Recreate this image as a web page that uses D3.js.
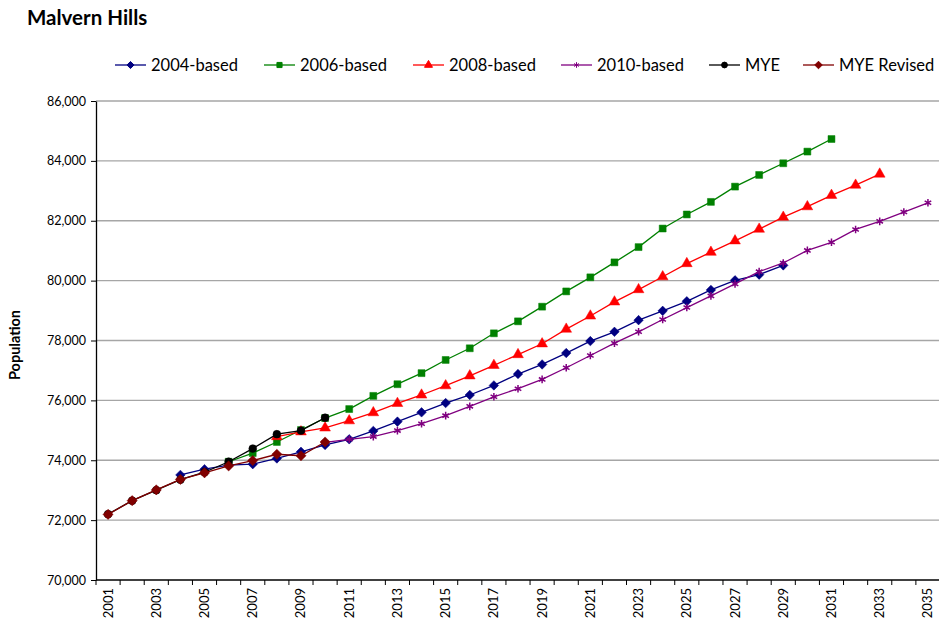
<!DOCTYPE html>
<html>
<head>
<meta charset="utf-8">
<script src="https://cdn.jsdelivr.net/npm/d3@7"></script>
<style>
  body { margin: 0; background: #fff; }
  svg { font-family: Lato, "Liberation Sans", sans-serif; }
</style>
</head>
<body>
<svg width="939" height="621"></svg>
<script>
// years on the x axis
var years = d3.range(2001, 2036);
var yTicks = [70000, 72000, 74000, 76000, 78000, 80000, 82000, 84000, 86000];

// series values, each starting at its own first year
var based2004Start = 2004;
var based2004 = [73510, 73700, 73840, 73870, 74060, 74280, 74510, 74700, 74980, 75290, 75600, 75910, 76180,
  76500, 76880, 77200, 77580, 77980, 78290, 78680, 78990, 79310, 79690, 80010, 80200, 80510];
var based2006Start = 2006;
var based2006 = [73950, 74240, 74610, 75010, 75410, 75710, 76150, 76540, 76910, 77350, 77740, 78240, 78640,
  79130, 79640, 80110, 80610, 81120, 81740, 82210, 82630, 83140, 83530, 83920, 84310, 84730];
var based2008Start = 2008;
var based2008 = [74790, 74950, 75080, 75320, 75590, 75900, 76180, 76490, 76820, 77170, 77530, 77890, 78380,
  78820, 79290, 79700, 80130, 80570, 80950, 81330, 81720, 82120, 82470, 82850, 83190, 83560];
var based2010Start = 2010;
var based2010 = [74600, 74700, 74790, 74990, 75220, 75490, 75800, 76120, 76390, 76700, 77090, 77500, 77910,
  78290, 78700, 79100, 79490, 79890, 80300, 80590, 81010, 81280, 81710, 81980, 82290, 82600];
var myeStart = 2001;
var mye = [72200, 72650, 73000, 73350, 73600, 73950, 74390, 74870, 74990, 75420];
var myeRevStart = 2001;
var myeRev = [72190, 72650, 73010, 73360, 73580, 73810, 73990, 74200, 74150, 74610];

var series = [
  {name: "2004-based", start: based2004Start, values: based2004, color: "#000080", symbol: d3.symbolDiamond2, size: 58},
  {name: "2006-based", start: based2006Start, values: based2006, color: "#008000", symbol: d3.symbolSquare, size: 48},
  {name: "2008-based", start: based2008Start, values: based2008, color: "#ff0000", symbol: d3.symbolTriangle, size: 50},
  {name: "2010-based", start: based2010Start, values: based2010, color: "#800080", symbol: d3.symbolAsterisk, size: 40},
  {name: "MYE", start: myeStart, values: mye, color: "#000000", symbol: d3.symbolCircle, size: 48},
  {name: "MYE Revised", start: myeRevStart, values: myeRev, color: "#800000", symbol: d3.symbolDiamond2, size: 66}
];

var svg = d3.select("svg");
var plotLeft = 96, plotRight = 940, plotTop = 101, plotBottom = 580;

var xScale = d3.scaleBand().domain(years).range([plotLeft, plotRight]).padding(0);
var yScale = d3.scaleLinear().domain([70000, 86000]).range([plotBottom, plotTop]);
var bw = xScale.bandwidth();

// title
svg.append("text").attr("x", 27).attr("y", 25).attr("font-size", "20.5px").attr("font-weight", "bold")
  .attr("fill", "#000").text("Malvern Hills");

// gridlines
svg.append("g").selectAll("line").data(yTicks.slice(1)).enter().append("line")
  .attr("x1", plotLeft).attr("x2", plotRight)
  .attr("y1", function(d){ return yScale(d); }).attr("y2", function(d){ return yScale(d); })
  .attr("stroke", "#a6a6a6").attr("stroke-width", 1.3);

// y axis
var yAxis = svg.append("g").attr("transform", "translate(" + plotLeft + ",0)")
  .call(d3.axisLeft(yScale).tickValues(yTicks).tickFormat(d3.format(",")).tickSize(5).tickSizeOuter(0));
yAxis.select(".domain").attr("stroke", "#000").attr("stroke-width", 1.3);
yAxis.selectAll(".tick line").attr("stroke", "#000");
yAxis.selectAll(".tick text").attr("font-size", "12.5px").attr("fill", "#000").attr("x", -10)
  .attr("font-family", "Lato, sans-serif");

svg.append("text").attr("transform", "translate(20,345) rotate(-90)").attr("text-anchor", "middle")
  .attr("font-size", "14.5px").attr("font-weight", "bold").text("Population");

// x axis: ticks at band edges, labels on odd years
var xg = svg.append("g");
xg.append("line").attr("x1", plotLeft).attr("x2", plotRight).attr("y1", plotBottom).attr("y2", plotBottom)
  .attr("stroke", "#000").attr("stroke-width", 1.3);
xg.selectAll(".xt").data(years.concat([2036])).enter().append("line").attr("class", "xt")
  .attr("x1", function(d){ return d === 2036 ? plotRight : xScale(d); })
  .attr("x2", function(d){ return d === 2036 ? plotRight : xScale(d); })
  .attr("y1", plotBottom).attr("y2", plotBottom + 5).attr("stroke", "#000");
xg.selectAll(".xl").data(years.filter(function(d){ return d % 2 === 1; })).enter().append("text")
  .attr("class", "xl")
  .attr("transform", function(d){ return "translate(" + (xScale(d) + bw / 2 + 4.5) + "," + (plotBottom + 8) + ") rotate(-90)"; })
  .attr("text-anchor", "end").attr("font-size", "13px").text(function(d){ return d; });

// lines + markers
series.forEach(function(s){
  var pts = s.values.map(function(v, i){ return {year: s.start + i, value: v}; });
  var line = d3.line()
    .x(function(d){ return xScale(d.year) + bw / 2; })
    .y(function(d){ return yScale(d.value); });
  var g = svg.append("g");
  g.append("path").datum(pts).attr("d", line).attr("fill", "none")
    .attr("stroke", s.color).attr("stroke-width", 1.3);
  g.selectAll("path.m").data(pts).enter().append("path").attr("class", "m")
    .attr("transform", function(d){ return "translate(" + (xScale(d.year) + bw / 2) + "," + yScale(d.value) + ")"; })
    .attr("d", d3.symbol().type(s.symbol).size(s.size))
    .attr("fill", s.color).attr("stroke", s.color).attr("stroke-width", s.symbol === d3.symbolAsterisk ? 1.5 : 0.5);
});

// legend
var legendX = [115, 264, 413, 561, 709, 803];
var leg = svg.append("g").selectAll("g").data(series).enter().append("g")
  .attr("transform", function(d, i){ return "translate(" + legendX[i] + ",65)"; });
leg.append("line").attr("x1", 0).attr("x2", 31).attr("stroke", function(d){ return d.color; }).attr("stroke-width", 1.3);
leg.append("path").attr("transform", "translate(15.5,0)")
  .attr("d", function(d){ return d3.symbol().type(d.symbol).size(d.size * 0.55)(); })
  .attr("fill", function(d){ return d.color; }).attr("stroke", function(d){ return d.color; });
leg.append("text").attr("x", 36).attr("y", 6).attr("font-size", "16.5px").attr("fill", "#000")
  .text(function(d){ return d.name; });
</script>
</body>
</html>
